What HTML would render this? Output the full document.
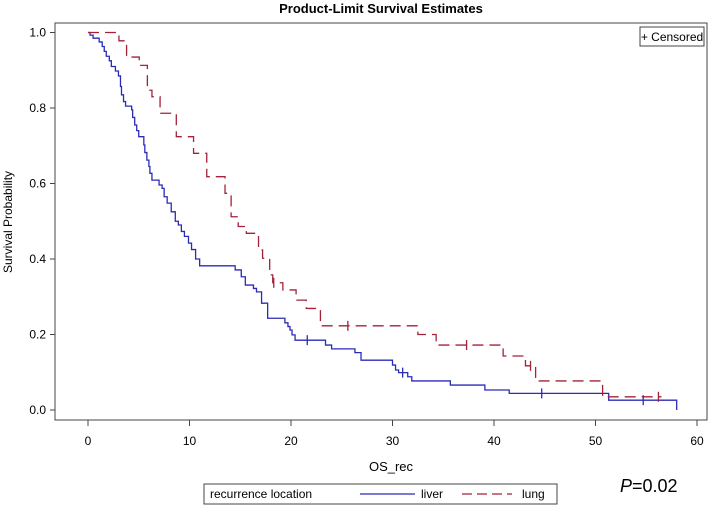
<!DOCTYPE html>
<html><head><meta charset="utf-8"><style>
body{margin:0;background:#fff;}
svg{display:block;font-family:"Liberation Sans",sans-serif;}
</style></head><body>
<svg id="chart" width="709" height="506" viewBox="0 0 709 506">
<text x="381" y="13" text-anchor="middle" font-size="13" font-weight="bold">Product-Limit Survival Estimates</text>
<rect x="55" y="23" width="652" height="397" fill="none" stroke="#444" stroke-width="1"/>
<g id="yaxis"></g>
<g id="xaxis"></g>
<text transform="translate(12,222) rotate(-90)" text-anchor="middle" font-size="12">Survival Probability</text>
<text x="391" y="471" text-anchor="middle" font-size="13">OS_rec</text>
<g id="series"></g>
<g>
<rect x="640" y="27" width="64" height="19" fill="#fff" stroke="#444"/>
<text x="672" y="41" text-anchor="middle" font-size="12">+ Censored</text>
</g>
<g>
<rect x="204" y="484" width="353" height="20" fill="#fff" stroke="#444"/>
<text x="210" y="498" font-size="12">recurrence location</text>
<line x1="360" y1="494" x2="415" y2="494" stroke="#2b2bb8" stroke-width="1.3"/>
<text x="421" y="498" font-size="12">liver</text>
<line x1="462" y1="494" x2="512" y2="494" stroke="#a3223a" stroke-width="1.3" stroke-dasharray="10,5"/>
<text x="522" y="498" font-size="12">lung</text>
</g>
<text x="620" y="492" font-size="18"><tspan font-style="italic">P</tspan>=0.02</text>
</svg>
<script>
const xTicks=[0,10,20,30,40,50,60];
const yTicks=[0.0,0.2,0.4,0.6,0.8,1.0];
const liverTimes=[0,0.2,0.5,1.1,1.4,1.6,1.8,2.1,2.3,2.7,3.0,3.2,3.3,3.5,3.7,4.3,4.4,4.6,4.8,5.0,5.5,5.6,5.8,6.0,6.1,6.3,7.0,7.3,7.5,7.8,8.2,8.6,8.9,9.2,9.5,9.9,10.2,10.6,11.0,14.5,15.1,15.5,16.3,16.6,17.1,17.7,19.4,19.7,19.9,20.1,20.4,23.4,24.0,26.3,26.9,30.0,30.3,30.6,31.5,31.9,35.7,39.1,41.5,51.3,58.0];
const liverSurv=[1.0,0.993,0.985,0.975,0.963,0.95,0.937,0.925,0.91,0.898,0.885,0.857,0.835,0.817,0.805,0.795,0.775,0.755,0.74,0.724,0.702,0.682,0.662,0.645,0.627,0.609,0.596,0.587,0.565,0.548,0.525,0.5,0.49,0.473,0.46,0.442,0.425,0.40,0.382,0.371,0.353,0.331,0.322,0.313,0.283,0.243,0.231,0.221,0.212,0.199,0.185,0.172,0.162,0.152,0.132,0.119,0.106,0.099,0.088,0.077,0.066,0.053,0.044,0.026,0.0];
const liverCensor=[21.6,31.0,44.7,54.7];
const lungTimes=[0,3.05,3.8,5.05,5.85,6.3,7.1,8.7,10.4,11.7,13.5,14.1,14.8,15.6,16.8,17.2,17.9,18.2,19.2,20.5,21.5,22.9,32.5,34.3,40.9,43.1,44.1,50.7];
const lungSurv=[1.0,0.978,0.935,0.913,0.847,0.83,0.786,0.724,0.68,0.618,0.574,0.512,0.486,0.468,0.424,0.402,0.358,0.337,0.318,0.291,0.269,0.223,0.200,0.172,0.143,0.117,0.077,0.035];
const lungCensor=[18.3,25.6,37.3,43.6,56.2];

const NS='http://www.w3.org/2000/svg';
const X=t=>88+t*10.15;
const Y=p=>410-p*377.5;
function mk(tag,attrs,parent){const e=document.createElementNS(NS,tag);for(const k in attrs)e.setAttribute(k,attrs[k]);parent.appendChild(e);return e;}
const ya=document.getElementById('yaxis'),xa=document.getElementById('xaxis'),sg=document.getElementById('series');
yTicks.forEach(v=>{
  const l=mk('line',{x1:50,x2:55,y1:Y(v),y2:Y(v),stroke:'#444'},ya);
  
  
  const t=mk('text',{x:46,y:Y(v)+4,'text-anchor':'end','font-size':12},ya);
  
  
  t.textContent=v.toFixed(1);
});
xTicks.forEach(v=>{
  const l=mk('line',{x1:X(v),x2:X(v),y1:420,y2:426,stroke:'#444'},xa);
  
  
  const t=mk('text',{x:X(v),y:445,'text-anchor':'middle','font-size':12},xa);
  
  
  t.textContent=v;
});
function survAt(times,surv,t){let s=surv[0];for(let i=0;i<times.length;i++){if(times[i]<=t)s=surv[i];}return s;}
function draw(times,surv,cens,end,color,dash,name){
  let d='M'+X(times[0])+','+Y(surv[0]);
  for(let i=1;i<times.length;i++){d+='H'+X(times[i])+'V'+Y(surv[i]);}
  if(end>times[times.length-1])d+='H'+X(end);
  const p=mk('path',{d:d,fill:'none',stroke:color,'stroke-width':1.3},sg);
  if(dash)p.setAttribute('stroke-dasharray',dash);
  
  
  cens.forEach(c=>{
    const s=survAt(times,surv,c);
    const m=mk('path',{d:'M'+X(c)+','+(Y(s)-5)+'V'+(Y(s)+5),stroke:color,'stroke-width':1.3},sg);
    
    
  });
}
draw(liverTimes,liverSurv,liverCensor,58.0,'#2b2bb8',null,'liver');
draw(lungTimes,lungSurv,lungCensor,56.5,'#a3223a','11,6','lung');
</script>
</body></html>
